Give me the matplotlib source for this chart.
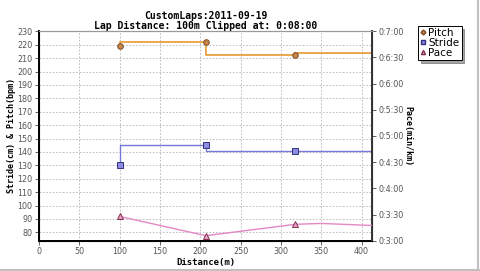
import matplotlib
matplotlib.use("Agg")
import matplotlib.pyplot as plt
from matplotlib.lines import Line2D
from matplotlib.ticker import FuncFormatter, MultipleLocator

# lap data
pitch_x = [100, 207, 318, 430]
pitch_y = [219, 222, 212, 214]
stride_x = [100, 207, 318, 430]
stride_y = [130, 145, 140.5, 140.5]
pace_x = [100, 207, 318, 350, 430]
pace_sec = [208, 186, 199, 200, 197]   # seconds per km

title = "CustomLaps:2011-09-19\nLap Distance: 100m Clipped at: 0:08:00"

mono = "DejaVu Sans Mono"
fig = plt.figure(figsize=(4.8, 2.71), dpi=100)
ax = fig.add_axes([0.081, 0.111, 0.694, 0.776])
ax2 = ax.twinx()

c_pitch, c_stride, c_pace = "#e8a040", "#7878d8", "#e488c4"

ax.step(pitch_x, pitch_y, where="pre", color=c_pitch, lw=1.3, zorder=3)
ax.plot(pitch_x, pitch_y, ls="none", marker="o", ms=4, mfc="#c8864a", mec="#7a4a20", mew=0.7, zorder=4)
ax.step(stride_x, stride_y, where="pre", color=c_stride, lw=1.0, zorder=3)
ax.plot(stride_x, stride_y, ls="none", marker="s", ms=4.5, mfc="#8c8ce0", mec="#303080", mew=0.7, zorder=4)
ax2.plot(pace_x, pace_sec, color=c_pace, lw=1.0, zorder=3)
ax2.plot(pace_x, pace_sec, ls="none", marker="^", ms=4.5, mfc="#e8a0c8", mec="#803050", mew=0.7, markevery=[0, 1, 2], zorder=4)

ax.set_xlim(0, 413)
ax.set_ylim(73.6, 230.5)
ax2.set_ylim(180, 420.5)
ax.xaxis.set_major_locator(MultipleLocator(50))
ax.yaxis.set_major_locator(MultipleLocator(10))
ax2.yaxis.set_major_locator(MultipleLocator(30))
ax2.yaxis.set_major_formatter(FuncFormatter(lambda v, p: "0:%d:%02d" % (int(v) // 60, int(v) % 60)))

ax.grid(True, color="#b4b4b4", ls=(0, (2, 2)), lw=0.6)
for a in (ax, ax2):
    a.tick_params(labelsize=5.8, length=3, width=0.6, pad=1.5, colors="#444444", labelcolor="#555555")
    a.spines["top"].set_color("#999999")
    a.spines["top"].set_linewidth(0.8)
ax.spines["left"].set_linewidth(1.4)
ax.spines["bottom"].set_linewidth(1.4)
ax2.spines["right"].set_linewidth(1.4)
ax2.spines["right"].set_color("#333333")

ax.set_title(title, fontsize=7, family=mono, fontweight="bold", linespacing=0.9, pad=1)
ax.set_xlabel("Distance(m)", fontsize=6.5, family=mono, fontweight="bold", labelpad=1)
ax.set_ylabel("Stride(cm) & Pitch(bpm)", fontsize=6, family=mono, fontweight="bold", labelpad=1)
ax2.set_ylabel("Pace(min/km)", fontsize=6, family=mono, fontweight="bold", rotation=270, labelpad=6)

handles = [
    Line2D([], [], ls="none", marker="D", ms=2.5, mfc="#c8864a", mec="#7a4a20"),
    Line2D([], [], ls="none", marker="s", ms=3, mfc="#8c8ce0", mec="#303080"),
    Line2D([], [], ls="none", marker="^", ms=3, mfc="#e8a0c8", mec="#803050"),
]
leg = fig.legend(handles, ["Pitch", "Stride", "Pace"], loc="upper left", bbox_to_anchor=(0.871, 0.905),
                 fontsize=7.5, frameon=True, fancybox=False, shadow=True, handlelength=0.5,
                 handletextpad=0.3, borderpad=0.2, labelspacing=0.0, borderaxespad=0)
leg.get_frame().set_edgecolor("#000000")
leg.get_frame().set_linewidth(0.7)

# light border along bottom and right of the panel
fig.add_artist(Line2D([0, 1], [0.004, 0.004], color="#c0c0c0", lw=1.5, transform=fig.transFigure))
fig.add_artist(Line2D([0.996, 0.996], [0, 1], color="#c0c0c0", lw=1.5, transform=fig.transFigure))

fig.savefig("out.png", dpi=100)
